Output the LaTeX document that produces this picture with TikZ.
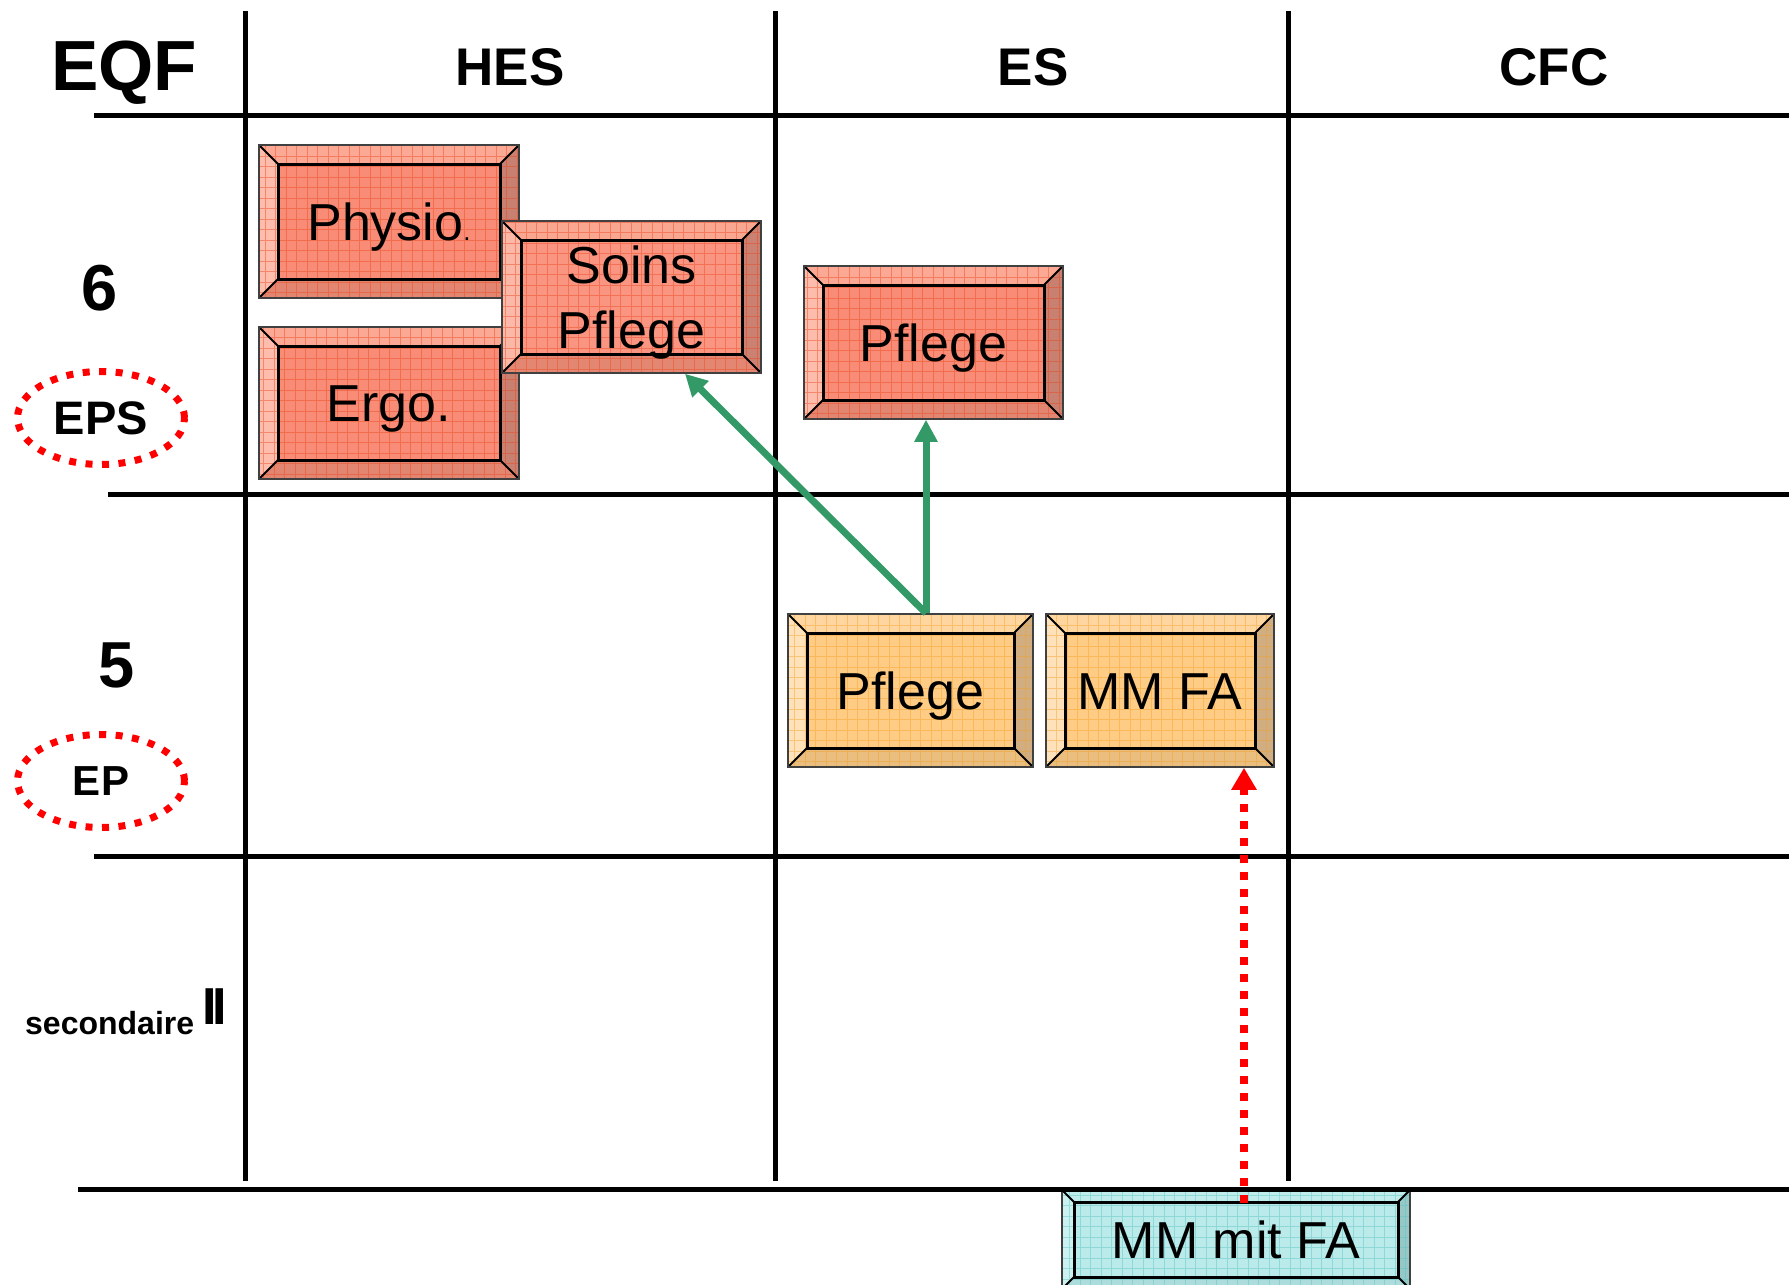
\documentclass[tikz,border=0pt]{standalone}
\usepackage{fontspec}
\setmainfont{Liberation Sans}
\usetikzlibrary{arrows.meta,shapes.geometric}

\definecolor{salmonmain}{RGB}{249,140,118}
\definecolor{salmontop}{RGB}{251,168,148}
\definecolor{salmonleft}{RGB}{253,188,172}
\definecolor{salmonright}{RGB}{200,128,112}
\definecolor{salmonbot}{RGB}{226,134,114}
\definecolor{salmongrid}{RGB}{235,70,30}
\definecolor{apricotmain}{RGB}{255,204,134}
\definecolor{apricottop}{RGB}{255,214,160}
\definecolor{apricotleft}{RGB}{255,225,186}
\definecolor{apricotright}{RGB}{208,174,130}
\definecolor{apricotbot}{RGB}{234,190,126}
\definecolor{apricotgrid}{RGB}{245,160,40}
\definecolor{aquamain}{RGB}{186,234,234}
\definecolor{aquatop}{RGB}{192,236,236}
\definecolor{aqualeft}{RGB}{204,241,241}
\definecolor{aquaright}{RGB}{150,200,200}
\definecolor{aquabot}{RGB}{172,220,220}
\definecolor{aquagrid}{RGB}{90,195,195}
\definecolor{arrowgreen}{RGB}{51,153,102}

\newcommand\bevelw{19pt}
\tikzset{
  bevelwidth/.code={\def\bevelw{#1}},
  bevelbox/.style={draw=black!75,line width=1.5pt,fill=#1main,inner sep=0pt,
    text height=37.5pt,text depth=0pt,font={\fontsize{52}{65}\selectfont},
    path picture={
      \path (path picture bounding box.north west) coordinate (onw)
            (path picture bounding box.north east) coordinate (one)
            (path picture bounding box.south west) coordinate (osw)
            (path picture bounding box.south east) coordinate (ose)
            ([shift={(\bevelw,-\bevelw)}]onw) coordinate (inw)
            ([shift={(-\bevelw,-\bevelw)}]one) coordinate (ine)
            ([shift={(\bevelw,\bevelw)}]osw) coordinate (isw)
            ([shift={(-\bevelw,\bevelw)}]ose) coordinate (ise);
      \fill[#1top] (onw)--(one)--(ine)--(inw)--cycle;
      \fill[#1left] (onw)--(inw)--(isw)--(osw)--cycle;
      \fill[#1right] (one)--(ose)--(ise)--(ine)--cycle;
      \fill[#1bot] (osw)--(isw)--(ise)--(ose)--cycle;
      \draw[#1grid,draw opacity=0.45,line width=0.8pt,step=10.5pt] (osw) grid (one);
      \draw[black,line width=3pt] (inw) rectangle (ise);
      \draw[black,line width=2pt] (onw)--(inw) (one)--(ine) (osw)--(isw) (ose)--(ise);
    }},
  gridline/.style={line width=5pt},
  headlabel/.style={anchor=base,inner sep=0pt,font={\fontsize{#1}{#1}\selectfont\bfseries}},
  levelbadge/.style={ellipse,draw=red,line width=7pt,dash pattern=on 7pt off 9.5pt,
    minimum width=167pt,minimum height=93pt,inner sep=0pt,text depth=0pt,
    font={\fontsize{#1}{#1}\selectfont\bfseries}},
  uparrow/.style={arrowgreen,line width=7pt,-{Triangle[length=22pt,width=22pt]}},
  mmarrow/.style={red,line width=8pt,dash pattern=on 8pt off 9pt,
    -{Triangle[length=22pt,width=24pt]}},
}

\begin{document}
\begin{tikzpicture}[x=1pt,y=-1pt]
\useasboundingbox (0,0) rectangle (1789,1285);
% grid
\draw[gridline] (94,115)--(1789,115);
\draw[gridline] (108,494)--(1789,494);
\draw[gridline] (94,856)--(1789,856);
\draw[gridline] (245,11)--(245,1181);
\draw[gridline] (775,11)--(775,1181);
\draw[gridline] (1288,11)--(1288,1181);
% headings
\node [headlabel=71,name=eqf] at (124,90){EQF};
\node [headlabel=53,name=hes] at (510,85){HES};
\node [headlabel=53,name=es] at (1033,85){ES};
\node [headlabel=53,name=cfc] at (1554,85){CFC};
\node [headlabel=65,name=six] at (100,310){6};
\node [headlabel=65,name=five] at (117,687){5};
\node [levelbadge=47,name=eps] at (101,418){EPS};
\node [levelbadge=42,name=ep] at (101,781){EP};
\node [headlabel=32,anchor=base west,name=sec] at (25,1034){secondaire};
\node [headlabel=52,anchor=base west,name=secii] at (202,1024){I\kern-4pt I};
% boxes
\node [bevelbox=salmon,minimum width=260pt,minimum height=153pt,name=physio] at (389,221.5){Physio{\fontsize{26}{30}\selectfont .}};
\node [bevelbox=salmon,minimum width=260pt,minimum height=152pt,name=ergo] at (389,403){Ergo.};
\node [bevelbox=salmon,fill opacity=0.92,text opacity=1,minimum width=259pt,minimum height=152pt,align=center,text height=102.5pt,name=soins] at (631.5,297){Soins\\Pflege};
\node [bevelbox=salmon,minimum width=259pt,minimum height=153pt,name=pflegeA] at (933.5,342.5){Pflege};
\node [bevelbox=apricot,minimum width=245pt,minimum height=153pt,name=pflegeB] at (910.5,690.5){Pflege};
\node [bevelbox=apricot,minimum width=228pt,minimum height=153pt,name=mmfa] at (1160,690.5){MM FA};
\node [bevelbox=aqua,bevelwidth=12pt,minimum width=348pt,minimum height=99pt,name=mmmit] at (1236,1239.5){MM mit FA};
\draw[gridline] (78,1189)--(1789,1189);
% arrows
\coordinate (fork) at ([xshift=15.5pt]pflegeB.north);
\draw[uparrow] (fork)--(fork |- pflegeA.south);
\draw[uparrow] (fork)--([xshift=53.5pt]soins.south);
\coordinate (rise) at ([shift={(8pt,-14pt)}]mmmit.north);
\draw[mmarrow] (rise)--(rise |- mmfa.south);
\end{tikzpicture}
\end{document}
